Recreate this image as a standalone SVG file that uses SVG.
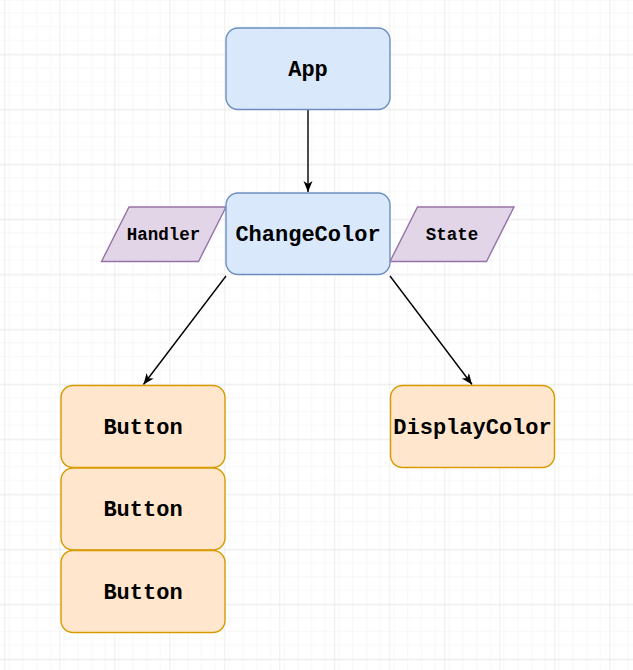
<svg xmlns="http://www.w3.org/2000/svg" width="633" height="670" viewBox="0 0 633 670">
  <defs>
    <pattern id="minor" x="4.3" y="-0.7" width="13.75" height="13.75" patternUnits="userSpaceOnUse">
      <path d="M0,0 H13.75 M0,0 V13.75" fill="none" stroke="#f0f0f0" stroke-width="1"/>
    </pattern>
    <pattern id="major" x="4.3" y="-0.7" width="55" height="55" patternUnits="userSpaceOnUse">
      <rect width="55" height="55" fill="url(#minor)"/>
      <path d="M0,0 H55 M0,0 V55" fill="none" stroke="#dedede" stroke-width="1"/>
    </pattern>
    <marker id="arrow" markerUnits="userSpaceOnUse" markerWidth="12" markerHeight="10" refX="11" refY="4.5" orient="auto">
      <path d="M0,0 L11,4.5 L0,9 L3,4.5 Z" fill="#000"/>
    </marker>
    <style>
      .blue { fill: #dae8fc; stroke: #6c8ebf; stroke-width: 1.4; }
      .orange { fill: #ffe6cc; stroke: #d79b00; stroke-width: 1.4; }
      .purple { fill: #e1d5e7; stroke: #9673a6; stroke-width: 1.4; }
      .lbl { font-family: "Liberation Mono", "Courier New", monospace; font-weight: bold; font-size: 22px; fill: #000; text-anchor: middle; }
      .sm { font-size: 17.5px; }
      .edge { fill: none; stroke: #000; stroke-width: 1.4; marker-end: url(#arrow); }
    </style>
  </defs>
  <rect width="633" height="670" fill="#fff"/>
  <rect width="633" height="670" fill="url(#major)"/>

  <g id="connectors">
    <path class="edge" d="M308,109.5 V192"/>
    <path class="edge" d="M226,276 L143.5,384.5"/>
    <path class="edge" d="M390,276 L472,384.5"/>
  </g>

  <g id="handler">
    <polygon class="purple" points="101.5,261.5 129,207 226,207 198.5,261.5"/>
    <text class="lbl sm" x="163.5" y="240">Handler</text>
  </g>
  <g id="state">
    <polygon class="purple" points="390,261.5 417.5,207 514,207 486.5,261.5"/>
    <text class="lbl sm" x="452" y="240">State</text>
  </g>
  <g id="app">
    <rect class="blue" x="226" y="28" width="164" height="81.5" rx="12"/>
    <text class="lbl" x="308" y="76">App</text>
  </g>
  <g id="changecolor">
    <rect class="blue" x="226" y="193" width="164" height="81.5" rx="12"/>
    <text class="lbl" x="308" y="241">ChangeColor</text>
  </g>
  <g id="button1">
    <rect class="orange" x="61" y="385.5" width="164" height="82" rx="12"/>
    <text class="lbl" x="143" y="433.5">Button</text>
  </g>
  <g id="button2">
    <rect class="orange" x="61" y="468" width="164" height="82" rx="12"/>
    <text class="lbl" x="143" y="516">Button</text>
  </g>
  <g id="button3">
    <rect class="orange" x="61" y="550.5" width="164" height="82" rx="12"/>
    <text class="lbl" x="143" y="598.5">Button</text>
  </g>
  <g id="displaycolor">
    <rect class="orange" x="390.5" y="385.5" width="164" height="82" rx="12"/>
    <text class="lbl" x="472.5" y="433.5">DisplayColor</text>
  </g>
</svg>
